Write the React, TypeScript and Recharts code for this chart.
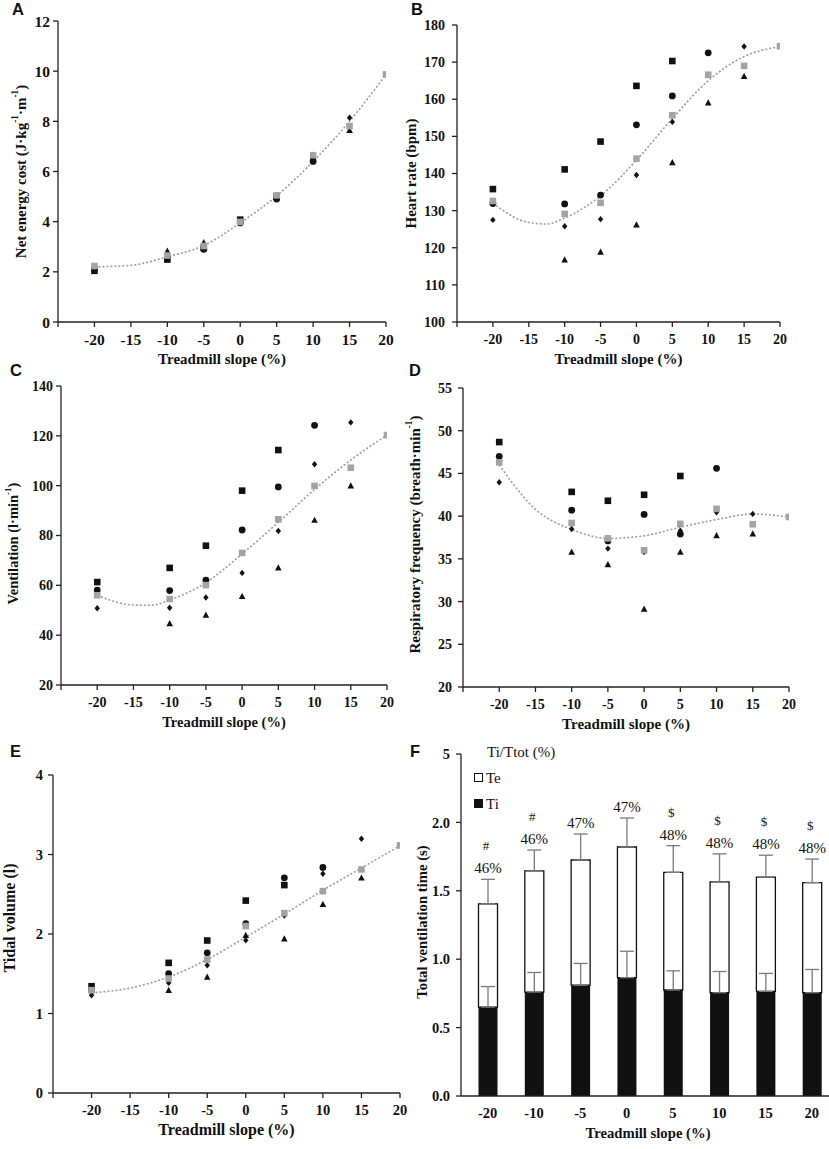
import React from "react";
import {
  Bar,
  ComposedChart,
  ErrorBar,
  LabelList,
  Legend,
  Line,
  Scatter,
  XAxis,
  YAxis,
} from "recharts";

const SERIF = '"Liberation Serif", "Times New Roman", serif';
const INK = "#111";
const AXIS = "#222";
const MEAN_GRAY = "#a3a3a3";
const TREND_GRAY = "#9c9c9c";

// treadmill slopes (%) tested
const slopes = [-20, -10, -5, 0, 5, 10, 15, 20];
const slopeTicks = [-25, -20, -15, -10, -5, 0, 5, 10, 15, 20];

// A: net energy cost
const energySquare = [2.04, 2.49, 2.95, 4.08, 5.0, null, null, null];
const energyCircle = [2.1, 2.55, 2.9, 3.95, 4.9, 6.4, null, null];
const energyDiamond = [2.1, 2.55, 2.95, 3.98, 4.92, 6.5, 8.14, null];
const energyTriangle = [null, 2.83, 3.17, 4.0, 5.0, 6.6, 7.65, null];
const energyMean = [2.23, 2.65, 3.03, 3.99, 5.05, 6.65, 7.81, 9.87];
const energyTrendX = [-20, -15, -10, -5, 0, 5, 10, 15, 20];
const energyTrend = [2.2, 2.26, 2.6, 3.05, 3.95, 5.03, 6.4, 8.0, 9.87];

// B: heart rate
const hrSquare = [135.8, 141.1, 148.6, 163.6, 170.3, null, null, null];
const hrCircle = [131.9, 131.8, 134.2, 153.1, 160.9, 172.5, null, null];
const hrDiamond = [127.5, 125.8, 127.7, 139.6, 153.9, 166.5, 174.2, null];
const hrTriangle = [null, 116.8, 118.9, 126.2, 143.0, 159.1, 166.2, null];
const hrMean = [132.6, 129.1, 132.1, 144.0, 155.7, 166.6, 169.0, 174.3];
const hrTrendX = [-20, -15, -12.5, -10, -5, 0, 5, 10, 15, 20];
const hrTrend = [132, 126.8, 126.4, 128, 134, 143.6, 154.8, 165, 171.5, 174.2];

// C: ventilation
const veSquare = [61.3, 67.0, 75.9, 98.0, 114.3, null, null, null];
const veCircle = [58.1, 57.9, 62.1, 82.2, 99.5, 124.2, null, null];
const veDiamond = [50.8, 51.0, 55.1, 65.0, 81.8, 108.6, 125.4, null];
const veTriangle = [null, 44.7, 48.1, 55.6, 67.1, 86.2, 100.0, null];
const veMean = [56.0, 54.5, 60.1, 73.0, 86.5, 99.9, 107.2, 120.3];
const veTrendX = [-20, -15, -12.5, -10, -5, 0, 5, 10, 15, 20];
const veTrend = [56.0, 52.1, 52.0, 54.1, 61.1, 72.6, 85.3, 98.5, 110.3, 120.3];

// D: respiratory frequency
const rfSquare = [48.67, 42.84, 41.8, 42.5, 44.7, null, null, null];
const rfCircle = [47.0, 40.7, 37.1, 40.2, 37.9, 45.6, null, null];
const rfDiamond = [43.97, 38.5, 36.2, 35.8, 38.3, 40.45, 40.26, null];
const rfTriangle = [null, 35.8, 34.35, 29.15, 35.8, 37.75, 37.95, null];
const rfMean = [46.3, 39.2, 37.4, 36.0, 39.1, 40.85, 39.05, 39.9];
const rfTrendX = [-20, -15, -10, -5, 0, 5, 10, 15, 20];
const rfTrend = [46.0, 40.8, 38.45, 37.4, 37.7, 38.7, 39.6, 40.25, 39.9];

// E: tidal volume
const vtSquare = [1.343, 1.637, 1.918, 2.42, 2.615, null, null, null];
const vtCircle = [1.29, 1.5, 1.763, 2.13, 2.707, 2.837, null, null];
const vtDiamond = [1.23, 1.385, 1.607, 1.922, 2.233, 2.758, 3.198, null];
const vtTriangle = [null, 1.293, 1.461, 1.985, 1.94, 2.376, 2.707, null];
const vtMean = [1.293, 1.44, 1.679, 2.1, 2.262, 2.539, 2.812, 3.114];
const vtTrendX = [-20, -15, -10, -5, 0, 5, 10, 15, 20];
const vtTrend = [1.26, 1.32, 1.46, 1.68, 1.96, 2.25, 2.55, 2.83, 3.11];

// F: inspiratory / expiratory time
const slopeLabels = ["-20", "-10", "-5", "0", "5", "10", "15", "20"];
const tiTime = [0.65, 0.76, 0.81, 0.865, 0.775, 0.755, 0.765, 0.755];
const teTime = [0.755, 0.885, 0.915, 0.955, 0.86, 0.81, 0.835, 0.805];
const tiSd = [0.15, 0.143, 0.159, 0.193, 0.14, 0.155, 0.131, 0.17];
const teSd = [0.179, 0.153, 0.19, 0.212, 0.195, 0.205, 0.16, 0.172];
const tiShare = ["46%", "46%", "47%", "47%", "48%", "48%", "48%", "48%"];
const sigMarks = ["#", "#", "", "", "$", "$", "$", "$"];
const timeTicks = [0, 0.5, 1, 1.5, 2, 2.5];
const timeTickLabels = ["0.0", "0.5", "1.0", "1.5", "2.0", "5"];

type Part = [string, boolean?];

const pts = (vals: (number | null)[]) =>
  slopes
    .map((x, i) => ({ x, y: vals[i] }))
    .filter((p) => p.y !== null);

const curve = (xs: number[], ys: number[]) => xs.map((x, i) => ({ x, y: ys[i] }));

const SquareDot = (fill: string) => (p: any) =>
  <rect x={p.cx - 3.3} y={p.cy - 3.3} width={6.6} height={6.6} fill={fill} />;
const CircleDot = (p: any) => <circle cx={p.cx} cy={p.cy} r={3.4} fill={INK} />;
const DiamondDot = (p: any) => (
  <polygon
    points={`${p.cx},${p.cy - 3.2} ${p.cx + 2.7},${p.cy} ${p.cx},${p.cy + 3.2} ${p.cx - 2.7},${p.cy}`}
    fill={INK}
  />
);
const TriangleDot = (p: any) => (
  <polygon
    points={`${p.cx},${p.cy - 3.4} ${p.cx + 3.3},${p.cy + 2.8} ${p.cx - 3.3},${p.cy + 2.8}`}
    fill={INK}
  />
);

function YTitle(props: any) {
  const { viewBox, lx, shift, parts, size } = props;
  const cy = viewBox.y + viewBox.height / 2 + shift;
  let up = false;
  return (
    <text
      transform={`translate(${lx},${cy}) rotate(-90)`}
      textAnchor="middle"
      dominantBaseline="central"
      fontFamily={SERIF}
      fontWeight={700}
      fontSize={size}
      fill={INK}
    >
      {(parts as Part[]).map(([t, sup], i) => {
        let dy = 0;
        if (sup && !up) dy = -size * 0.38;
        if (!sup && up) dy = size * 0.38;
        up = !!sup;
        return (
          <tspan key={i} dy={dy} fontSize={sup ? size * 0.62 : size}>
            {t}
          </tspan>
        );
      })}
    </text>
  );
}

function XTitle(props: any) {
  const { viewBox, size } = props;
  return (
    <text
      x={viewBox.x + viewBox.width / 2}
      y={viewBox.y + 42}
      textAnchor="middle"
      fontFamily={SERIF}
      fontWeight={700}
      fontSize={size}
      fill={INK}
    >
      Treadmill slope (%)
    </text>
  );
}

type PanelProps = {
  left: number;
  top: number;
  width: number;
  height: number;
  yWidth: number;
  margin: { top: number; right: number; bottom: number; left: number };
  yDomain: [number, number];
  yTicks: number[];
  yGap: number;
  tickSize: number;
  title: Part[];
  titleX: number;
  titleShift: number;
  titleSize: number;
  square: (number | null)[];
  circle: (number | null)[];
  diamond: (number | null)[];
  triangle: (number | null)[];
  mean: (number | null)[];
  trendX: number[];
  trend: number[];
};

function ScatterPanel(p: PanelProps) {
  const tick = { fill: INK, fontFamily: SERIF, fontWeight: 700, fontSize: p.tickSize };
  return (
    <div style={{ position: "absolute", left: p.left, top: p.top }}>
      <ComposedChart width={p.width} height={p.height} margin={p.margin}>
        <XAxis
          type="number"
          dataKey="x"
          domain={[-25, 20]}
          ticks={slopeTicks}
          interval={0}
          allowDataOverflow
          tickFormatter={(v) => (v === -25 ? "" : String(v))}
          tick={tick}
          tickSize={5}
          tickMargin={7}
          height={48}
          axisLine={{ stroke: AXIS, strokeWidth: 1.3 }}
          tickLine={{ stroke: AXIS, strokeWidth: 1.3 }}
          label={<XTitle size={p.titleSize} />}
        />
        <YAxis
          type="number"
          dataKey="y"
          domain={p.yDomain}
          ticks={p.yTicks}
          interval={0}
          allowDataOverflow
          width={p.yWidth}
          tick={tick}
          tickSize={5}
          tickMargin={p.yGap}
          axisLine={{ stroke: AXIS, strokeWidth: 1.3 }}
          tickLine={{ stroke: AXIS, strokeWidth: 1.3 }}
          label={
            <YTitle lx={p.titleX} shift={p.titleShift} parts={p.title} size={p.titleSize} />
          }
        />
        <Scatter data={pts(p.square)} shape={SquareDot(INK)} isAnimationActive={false} />
        <Scatter data={pts(p.circle)} shape={CircleDot} isAnimationActive={false} />
        <Scatter data={pts(p.diamond)} shape={DiamondDot} isAnimationActive={false} />
        <Scatter data={pts(p.triangle)} shape={TriangleDot} isAnimationActive={false} />
        <Line
          data={curve(p.trendX, p.trend)}
          dataKey="y"
          type="monotone"
          dot={false}
          activeDot={false}
          stroke={TREND_GRAY}
          strokeWidth={1.6}
          strokeDasharray="2 2"
          isAnimationActive={false}
        />
        <Scatter data={pts(p.mean)} shape={SquareDot(MEAN_GRAY)} isAnimationActive={false} />
      </ComposedChart>
    </div>
  );
}

const ventTable = slopeLabels.map((slope, i) => ({
  slope,
  ti: tiTime[i],
  te: teTime[i],
  tiErr: [0, tiSd[i]],
  teErr: [0, teSd[i]],
}));

function VentNote(props: any) {
  const { index } = props;
  const vb = props.viewBox ?? props;
  const h = Math.abs(vb.height);
  const yTop = Math.min(vb.y, vb.y + vb.height);
  const cx = vb.x + vb.width / 2;
  const errTop = yTop - (teSd[index] * h) / teTime[index];
  return (
    <g>
      <text x={cx} y={errTop - 6} textAnchor="middle" fontFamily={SERIF} fontSize={15} fill={INK}>
        {tiShare[index]}
      </text>
      {sigMarks[index] ? (
        <text x={cx - 2} y={errTop - 29} textAnchor="middle" fontFamily={SERIF} fontSize={13} fill={INK}>
          {sigMarks[index]}
        </text>
      ) : null}
    </g>
  );
}

function VentLegend(props: any) {
  // Te is listed above Ti, as in the figure
  const items = [...(props.payload ?? [])].sort((a: any, b: any) =>
    a.dataKey === "te" ? -1 : b.dataKey === "te" ? 1 : 0
  );
  return (
    <div style={{ fontFamily: SERIF, fontSize: 15, lineHeight: "24px", color: INK, whiteSpace: "nowrap" }}>
      <div style={{ paddingLeft: 13 }}>Ti/Ttot (%)</div>
      {items.map((it: any) => (
        <div key={it.value}>
          <span
            style={{
              display: "inline-block",
              width: 7,
              height: 7,
              marginRight: 3,
              verticalAlign: "middle",
              background: it.dataKey === "ti" ? INK : "#fff",
              border: `1px solid ${INK}`,
            }}
          />
          <span style={{ verticalAlign: "middle" }}>{it.value}</span>
        </div>
      ))}
    </div>
  );
}

function VentilationTimes() {
  const tick = { fill: INK, fontFamily: SERIF, fontWeight: 700, fontSize: 14.5 };
  return (
    <div style={{ position: "absolute", left: 400, top: 745 }}>
      <ComposedChart
        width={435}
        height={404}
        data={ventTable}
        margin={{ top: 9, right: 0, bottom: 5, left: 0 }}
      >
        <XAxis
          dataKey="slope"
          interval={0}
          padding={{ left: 3.5, right: 0 }}
          tick={tick}
          tickLine={false}
          tickSize={0}
          tickMargin={12}
          height={48}
          axisLine={{ stroke: AXIS, strokeWidth: 1.3 }}
          label={<XTitle size={14.7} />}
        />
        <YAxis
          type="number"
          domain={[0, 2.5]}
          ticks={timeTicks}
          interval={0}
          width={61}
          tick={tick}
          tickFormatter={(v) => timeTickLabels[timeTicks.indexOf(v)] ?? String(v)}
          tickSize={5}
          tickMargin={6}
          axisLine={{ stroke: AXIS, strokeWidth: 1.3 }}
          tickLine={{ stroke: AXIS, strokeWidth: 1.3 }}
          label={<YTitle lx={22} shift={-3} parts={[["Total ventilation time (s)"]]} size={14.7} />}
        />
        <Legend
          layout="vertical"
          align="center"
          verticalAlign="middle"
          wrapperStyle={{ top: -5, left: 74, width: 120 }}
          content={<VentLegend />}
        />
        <Bar dataKey="ti" name="Ti" stackId="t" fill={INK} barSize={19} isAnimationActive={false}>
          <ErrorBar dataKey="tiErr" direction="y" width={7} stroke="#7a7a7a" strokeWidth={1.3} />
        </Bar>
        <Bar
          dataKey="te"
          name="Te"
          stackId="t"
          fill="none"
          stroke={INK}
          strokeWidth={1.3}
          barSize={19}
          isAnimationActive={false}
        >
          <ErrorBar dataKey="teErr" direction="y" width={7} stroke="#7a7a7a" strokeWidth={1.3} />
          <LabelList dataKey="te" content={<VentNote />} />
        </Bar>
      </ComposedChart>
    </div>
  );
}

const letterStyle: React.CSSProperties = {
  position: "absolute",
  fontFamily: '"Liberation Sans", Arial, sans-serif',
  fontWeight: 700,
  fontSize: 16.5,
  lineHeight: "17px",
  color: INK,
};

const letters: [string, number, number][] = [
  ["A", 12, 1],
  ["B", 411, 1],
  ["C", 10, 362],
  ["D", 409, 362],
  ["E", 10, 743],
  ["F", 410, 743],
];

export default function App() {
  return (
    <div
      style={{
        position: "absolute",
        left: 0,
        top: 0,
        width: 829,
        height: 1149,
        overflow: "hidden",
        background: "#fff",
      }}
    >
      <ScatterPanel
        left={0}
        top={0}
        width={415}
        height={370}
        yWidth={58}
        margin={{ top: 21, right: 29, bottom: 0, left: 0 }}
        yDomain={[0, 12]}
        yTicks={[0, 2, 4, 6, 8, 10, 12]}
        yGap={3}
        tickSize={15.5}
        title={[["Net energy cost (J·kg"], ["-1", true], ["·m"], ["-1", true], [")"]]}
        titleX={20.5}
        titleShift={0}
        titleSize={15}
        square={energySquare}
        circle={energyCircle}
        diamond={energyDiamond}
        triangle={energyTriangle}
        mean={energyMean}
        trendX={energyTrendX}
        trend={energyTrend}
      />
      <ScatterPanel
        left={400}
        top={0}
        width={429}
        height={370}
        yWidth={57}
        margin={{ top: 25, right: 49, bottom: 0, left: 0 }}
        yDomain={[100, 180]}
        yTicks={[100, 110, 120, 130, 140, 150, 160, 170, 180]}
        yGap={7}
        tickSize={14}
        title={[["Heart rate (bpm)"]]}
        titleX={11}
        titleShift={0}
        titleSize={15}
        square={hrSquare}
        circle={hrCircle}
        diamond={hrDiamond}
        triangle={hrTriangle}
        mean={hrMean}
        trendX={hrTrendX}
        trend={hrTrend}
      />
      <ScatterPanel
        left={0}
        top={362}
        width={415}
        height={388}
        yWidth={61}
        margin={{ top: 24, right: 28, bottom: 17, left: 0 }}
        yDomain={[20, 140]}
        yTicks={[20, 40, 60, 80, 100, 120, 140]}
        yGap={3}
        tickSize={14}
        title={[["Ventilation (l·min"], ["-1", true], [")"]]}
        titleX={13}
        titleShift={8}
        titleSize={14.5}
        square={veSquare}
        circle={veCircle}
        diamond={veDiamond}
        triangle={veTriangle}
        mean={veMean}
        trendX={veTrendX}
        trend={veTrend}
      />
      <ScatterPanel
        left={400}
        top={362}
        width={429}
        height={388}
        yWidth={63}
        margin={{ top: 26, right: 40, bottom: 15, left: 0 }}
        yDomain={[20, 55]}
        yTicks={[20, 25, 30, 35, 40, 45, 50, 55]}
        yGap={6}
        tickSize={14}
        title={[["Respiratory frequency (breath·min"], ["-1", true], [")"]]}
        titleX={15}
        titleShift={-3}
        titleSize={15}
        square={rfSquare}
        circle={rfCircle}
        diamond={rfDiamond}
        triangle={rfTriangle}
        mean={rfMean}
        trendX={rfTrendX}
        trend={rfTrend}
      />
      <ScatterPanel
        left={0}
        top={750}
        width={415}
        height={399}
        yWidth={53}
        margin={{ top: 25, right: 15, bottom: 8, left: 0 }}
        yDomain={[0, 4]}
        yTicks={[0, 1, 2, 3, 4]}
        yGap={5}
        tickSize={14.5}
        title={[["Tidal volume (l)"]]}
        titleX={9}
        titleShift={-16}
        titleSize={16}
        square={vtSquare}
        circle={vtCircle}
        diamond={vtDiamond}
        triangle={vtTriangle}
        mean={vtMean}
        trendX={vtTrendX}
        trend={vtTrend}
      />
      <VentilationTimes />
      {letters.map(([t, x, y]) => (
        <div key={t} style={{ ...letterStyle, left: x, top: y }}>
          {t}
        </div>
      ))}
    </div>
  );
}
